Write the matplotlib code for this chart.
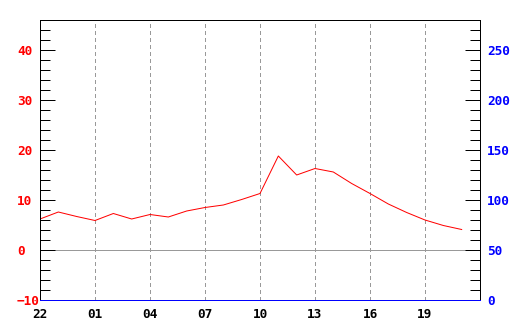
import matplotlib
matplotlib.use("Agg")
import matplotlib.pyplot as plt
from matplotlib.ticker import MultipleLocator, FixedLocator

# hourly readings, starting at 22:00
hours = list(range(24))
values = [
    6.2, 7.6, 6.7, 5.9, 7.3, 6.2, 7.1, 6.6,
    7.8, 8.5, 9.0, 10.1, 11.3, 18.8, 15.0, 16.3,
    15.6, 13.3, 11.3, 9.2, 7.5, 6.0, 4.9, 4.1,
]
tick_hours = [0, 3, 6, 9, 12, 15, 18, 21]
tick_labels = ["22", "01", "04", "07", "10", "13", "16", "19"]

PX = 72 / 100  # one pixel in points
FONT = dict(family="DejaVu Sans Mono", weight="bold", size=9.2)

fig = plt.figure(figsize=(5.2, 3.2), dpi=100)
ax = fig.add_axes([40 / 520, 20 / 320, 440 / 520, 280 / 320])
ax2 = ax.twinx()

ax.set_xlim(0, 24)
ax.set_ylim(-10, 46)
ax2.set_ylim(0, 280)

# zero line and data
ax.axhline(0, color="#999999", linewidth=PX, zorder=1, antialiased=False)
ax.plot(hours, values, color="#ff0000", linewidth=PX, zorder=3)

# vertical dashed grid
ax.xaxis.set_major_locator(FixedLocator(tick_hours))
ax.set_xticklabels(tick_labels, **FONT, color="black")
ax.grid(
    axis="x",
    color="#999999",
    linestyle=(0, (4, 3)),
    linewidth=PX,
    antialiased=False,
)
ax.tick_params(axis="x", length=0, pad=6)

# left axis
ax.yaxis.set_major_locator(MultipleLocator(10))
ax.yaxis.set_minor_locator(MultipleLocator(2))
ax.tick_params(
    axis="y", which="both", direction="in", left=True, right=False, width=PX,
)
ax.tick_params(axis="y", which="major", length=15 * PX, pad=23 * PX)
ax.tick_params(axis="y", which="minor", length=10 * PX)
for lab in ax.get_yticklabels():
    lab.set_fontproperties(FONT)
    lab.set_color("#ff0000")
    lab.set_horizontalalignment("left")

# right axis
ax2.yaxis.set_major_locator(MultipleLocator(50))
ax2.yaxis.set_minor_locator(MultipleLocator(10))
ax2.tick_params(
    axis="y", which="both", direction="in", left=False, right=True, width=PX,
)
ax2.tick_params(axis="y", which="major", length=15 * PX, pad=7 * PX)
ax2.tick_params(axis="y", which="minor", length=10 * PX)
for lab in ax2.get_yticklabels():
    lab.set_fontproperties(FONT)
    lab.set_color("#0000ff")

for a in (ax, ax2):
    for s in a.spines.values():
        s.set_linewidth(PX)
        s.set_color("black")
    a.spines["bottom"].set_color("#0000ff")

fig.savefig("out.png", dpi=100)
plt.close(fig)
